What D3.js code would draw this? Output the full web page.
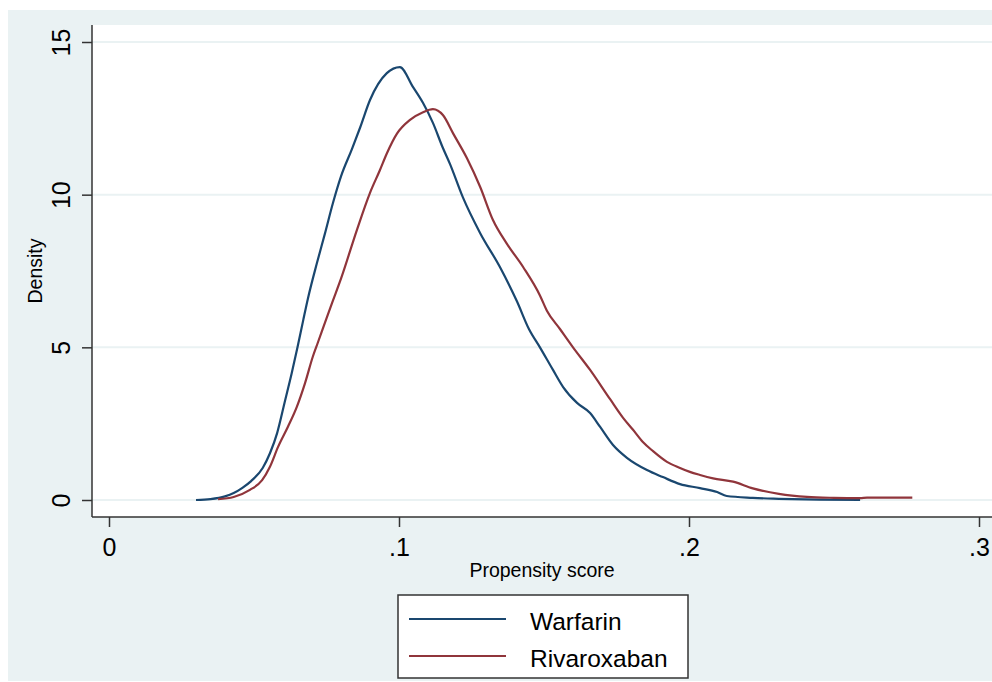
<!DOCTYPE html>
<html>
<head>
<meta charset="utf-8">
<script src="https://cdn.jsdelivr.net/npm/d3@7"></script>
<style>
  body { margin: 0; background: #ffffff; }
  text { font-family: "Liberation Sans", Arial, sans-serif; fill: #000; }
</style>
</head>
<body>
<script>
// kernel density readings, propensity score vs density
const warfarinScore = [0.030, 0.035, 0.040, 0.043, 0.046, 0.049, 0.053, 0.0555, 0.058, 0.0607,
  0.063, 0.065, 0.067, 0.0686, 0.0717, 0.0745, 0.0772, 0.080, 0.0838, 0.0866,
  0.090, 0.0958, 0.1003, 0.1048, 0.1083, 0.1117, 0.115, 0.1176, 0.122, 0.128,
  0.1348, 0.1407, 0.1448, 0.1486, 0.1531, 0.1566, 0.1614, 0.1659, 0.1693, 0.1738,
  0.1786, 0.1855, 0.191, 0.1969, 0.2038, 0.2097, 0.213, 0.222, 0.231, 0.245, 0.259];
const warfarinDensity = [0, 0.03, 0.12, 0.23, 0.4, 0.62, 1.05, 1.53, 2.2, 3.25,
  4.15, 5.0, 5.9, 6.6, 7.76, 8.74, 9.72, 10.6, 11.5, 12.2,
  13.1, 13.98, 14.18, 13.53, 13.0, 12.35, 11.56, 11.0, 9.92, 8.74,
  7.63, 6.5, 5.6, 5.0, 4.26, 3.7, 3.18, 2.85, 2.4, 1.8,
  1.38, 0.98, 0.75, 0.52, 0.39, 0.26, 0.13, 0.07, 0.04, 0.01, 0];

const rivaroxabanScore = [0.0376, 0.043, 0.0486, 0.0528, 0.0555, 0.0583, 0.0617, 0.0648, 0.0676, 0.0703,
  0.072, 0.075, 0.0769, 0.080, 0.0855, 0.090, 0.0934, 0.0958, 0.0993, 0.1038,
  0.1083, 0.1117, 0.1152, 0.1187, 0.1234, 0.128, 0.1324, 0.137, 0.1428, 0.1486,
  0.151, 0.1555, 0.16, 0.1659, 0.1728, 0.1772, 0.1807, 0.1841, 0.1876, 0.1924,
  0.1969, 0.2003, 0.2038, 0.2083, 0.2152, 0.222, 0.231, 0.2407, 0.25, 0.259,
  0.2614, 0.277];
const rivaroxabanDensity = [0.03, 0.1, 0.33, 0.65, 1.09, 1.74, 2.4, 3.06, 3.83, 4.7,
  5.15, 5.95, 6.45, 7.25, 8.85, 10.06, 10.8, 11.35, 12.0, 12.45,
  12.7, 12.8, 12.6, 12.0, 11.2, 10.25, 9.17, 8.42, 7.63, 6.7,
  6.2, 5.6, 5.0, 4.26, 3.3, 2.7, 2.3, 1.9, 1.6, 1.25,
  1.05, 0.92, 0.82, 0.71, 0.6, 0.38, 0.2, 0.1, 0.07, 0.06,
  0.08, 0.08];

const xTicks = [0, 0.1, 0.2, 0.3];
const xTickLabels = ["0", ".1", ".2", ".3"];
const yTicks = [0, 5, 10, 15];
const seriesNames = ["Warfarin", "Rivaroxaban"];
const seriesColors = ["#1a476f", "#90353b"];

const width = 992, height = 682;
const plotLeft = 92, plotTop = 25, plotRight = 992, plotBottom = 517;

const svg = d3.select("body")
  .append("svg")
  .attr("width", width)
  .attr("height", height);

// outer graph region
svg.append("rect")
  .attr("x", 8).attr("y", 10)
  .attr("width", width - 8).attr("height", 671)
  .attr("fill", "#eaf2f3");

svg.append("rect")
  .attr("x", plotLeft).attr("y", plotTop)
  .attr("width", plotRight - plotLeft).attr("height", plotBottom - plotTop)
  .attr("fill", "#ffffff");

const x = d3.scaleLinear().domain([0, 0.3]).range([109, 979]);
const y = d3.scaleLinear().domain([0, 15]).range([500, 42]);

// gridlines
svg.append("g")
  .selectAll("line")
  .data(yTicks)
  .join("line")
  .attr("x1", plotLeft)
  .attr("x2", plotRight)
  .attr("y1", d => y(d))
  .attr("y2", d => y(d))
  .attr("stroke", "#eaf2f3")
  .attr("stroke-width", 2);

// curves
const line = d3.line()
  .x(d => x(d[0]))
  .y(d => y(d[1]))
  .curve(d3.curveMonotoneX);

const series = [
  d3.zip(warfarinScore, warfarinDensity),
  d3.zip(rivaroxabanScore, rivaroxabanDensity)
];

svg.append("g")
  .selectAll("path")
  .data(series)
  .join("path")
  .attr("d", line)
  .attr("fill", "none")
  .attr("stroke", (d, i) => seriesColors[i])
  .attr("stroke-width", 2.2)
  .attr("stroke-linejoin", "round");

// axes
const xAxis = svg.append("g")
  .attr("transform", `translate(0,${plotBottom})`)
  .call(d3.axisBottom(x).tickValues(xTicks).tickFormat((d, i) => xTickLabels[i]).tickSize(10).tickSizeOuter(0));

xAxis.select(".domain").remove();
xAxis.selectAll(".tick line").attr("stroke", "#333").attr("stroke-width", 1.5);
xAxis.selectAll(".tick text")
  .attr("y", 39)
  .attr("dy", 0)
  .style("font-size", "25px")
  .style("font-family", "\"Liberation Sans\", Arial, sans-serif")
  .attr("fill", "#000");

const yAxis = svg.append("g")
  .attr("transform", `translate(${plotLeft},0)`)
  .call(d3.axisLeft(y).tickValues(yTicks).tickSize(10).tickSizeOuter(0));

yAxis.select(".domain").remove();
yAxis.selectAll(".tick line").attr("stroke", "#333").attr("stroke-width", 1.5);
yAxis.selectAll(".tick text")
  .attr("x", 0)
  .attr("y", -22)
  .attr("dy", 0)
  .attr("transform", "rotate(-90)")
  .attr("text-anchor", "middle")
  .style("font-size", "25px")
  .style("font-family", "\"Liberation Sans\", Arial, sans-serif")
  .attr("fill", "#000");

svg.append("line")
  .attr("x1", plotLeft).attr("x2", plotLeft)
  .attr("y1", plotTop).attr("y2", plotBottom)
  .attr("stroke", "#333").attr("stroke-width", 1.5);

svg.append("line")
  .attr("x1", plotLeft).attr("x2", plotRight)
  .attr("y1", plotBottom).attr("y2", plotBottom)
  .attr("stroke", "#333").attr("stroke-width", 1.5);

// axis titles
svg.append("text")
  .attr("x", (plotLeft + plotRight) / 2)
  .attr("y", 577)
  .attr("text-anchor", "middle")
  .style("font-size", "19.5px")
  .text("Propensity score");

svg.append("text")
  .attr("transform", `translate(42,${(plotTop + plotBottom) / 2}) rotate(-90)`)
  .attr("text-anchor", "middle")
  .style("font-size", "19.5px")
  .text("Density");

// legend
const legend = svg.append("g");

legend.append("rect")
  .attr("x", 398).attr("y", 595)
  .attr("width", 290).attr("height", 83)
  .attr("fill", "#ffffff")
  .attr("stroke", "#333")
  .attr("stroke-width", 1.5);

const items = legend.selectAll(".item")
  .data(seriesNames)
  .join("g")
  .attr("class", "item")
  .attr("transform", (d, i) => `translate(0,${619 + i * 37})`);

items.append("line")
  .attr("x1", 409).attr("x2", 506)
  .attr("stroke", (d, i) => seriesColors[i])
  .attr("stroke-width", 2.2);

items.append("text")
  .attr("x", 530)
  .attr("y", 11)
  .style("font-size", "24.5px")
  .text(d => d);
</script>
</body>
</html>
